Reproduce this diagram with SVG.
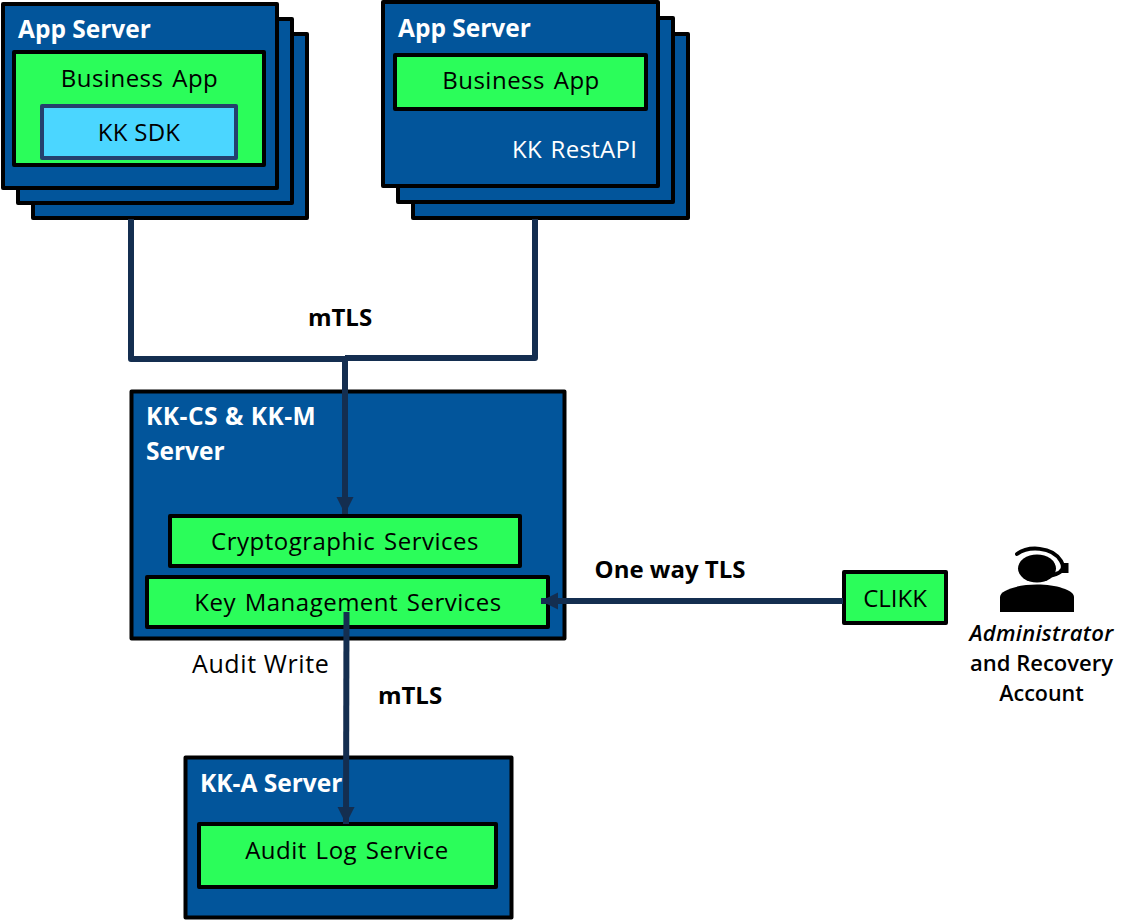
<svg xmlns="http://www.w3.org/2000/svg" width="1145" height="920" viewBox="0 0 1145 920">
<style>
text{font-family:"Open Sans","Noto Sans","Liberation Sans",sans-serif;font-size:24px;fill:#000}
.srv{fill:#02559b;stroke:#000;stroke-width:4;stroke-linejoin:round}
.svc{fill:#2bfd5a;stroke:#000;stroke-width:4;stroke-linejoin:round}
.w{fill:#fff;font-weight:700;font-size:24.500px}
.n{letter-spacing:.5px;word-spacing:2px}
.c{text-anchor:middle}
.b{font-weight:700;text-anchor:middle}
.con{fill:none;stroke:#142e50;stroke-width:6;stroke-linejoin:round}
.lbl{font-weight:600;font-size:22px;text-anchor:middle}
</style>
<defs>
<marker id="arr" markerUnits="userSpaceOnUse" markerWidth="18" markerHeight="18" refX="17" refY="9" orient="auto"><path d="M0,0.500L17,9L0,17.500Z" fill="#142e50"/></marker>
</defs>
<g id="app-server-1">
<rect class="srv" x="33" y="34" width="274" height="184"/>
<rect class="srv" x="18" y="19" width="274" height="184"/>
<rect class="srv" x="3" y="4" width="274" height="184"/>
<text class="w" x="18" y="38">App Server</text>
</g>
<g id="business-app-1">
<rect class="svc" x="14" y="52" width="250" height="113"/>
<text class="c n" x="139.500" y="87">Business App</text>
</g>
<g id="kk-sdk">
<rect x="42" y="106" width="194" height="52" fill="#4bd6ff" stroke="#24406e" stroke-width="4" stroke-linejoin="round"/>
<text class="c" x="139" y="141" style="letter-spacing:.3px">KK SDK</text>
</g>
<g id="app-server-2">
<rect class="srv" x="413" y="34" width="275" height="184"/>
<rect class="srv" x="398" y="18" width="275" height="184"/>
<rect class="srv" x="383" y="2" width="275" height="184"/>
<text class="w" x="398" y="37">App Server</text>
<text class="n" x="512" y="158" style="fill:#fff;letter-spacing:.3px">KK RestAPI</text>
</g>
<g id="business-app-2">
<rect class="svc" x="395" y="55" width="251" height="54"/>
<text class="c n" x="521" y="89">Business App</text>
</g>
<g id="kk-cs-server">
<rect class="srv" x="131.500" y="391.500" width="433" height="247"/>
<text class="w" x="146" y="425" style="letter-spacing:.5px">KK-CS &amp; KK-M</text>
<text class="w" x="146" y="460">Server</text>
</g>
<g id="crypto-services">
<rect class="svc" x="170" y="516" width="350" height="50"/>
<text class="c n" x="345" y="550">Cryptographic Services</text>
</g>
<g id="key-mgmt-services">
<rect class="svc" x="147" y="577" width="401" height="50"/>
<text class="c n" x="348" y="611">Key Management Services</text>
</g>
<g id="kk-a-server">
<rect class="srv" x="185.500" y="757.500" width="326" height="160"/>
<text class="w" x="200" y="792">KK-A Server</text>
</g>
<g id="audit-log-service">
<rect class="svc" x="199" y="824" width="297" height="63"/>
<text class="c n" x="347" y="859">Audit Log Service</text>
</g>
<g id="clikk">
<rect class="svc" x="844" y="572" width="102" height="51"/>
<text class="c" x="895" y="607">CLIKK</text>
</g>
<g id="administrator">
<path d="M1017,554C1028,546 1052,546 1061,561C1065,568 1062,572 1056,574L1046,577" fill="none" stroke="#000" stroke-width="4" stroke-linecap="round"/>
<rect x="1062" y="563" width="6.500" height="10" fill="#000"/>
<ellipse cx="1037" cy="568.500" rx="19" ry="14" fill="#000"/>
<path d="M1000,612L1000,597C1000,590 1018,584.500 1037,584.500C1056,584.500 1074,590 1074,597L1074,612Z" fill="#000"/>
<text class="lbl" x="1041.500" y="641" style="font-style:italic;letter-spacing:.3px">Administrator</text>
<text class="lbl" x="1041.500" y="671">and Recovery</text>
<text class="lbl" x="1041.500" y="701" style="font-size:21.500px">Account</text>
</g>
<g id="connectors">
<path class="con" d="M131,219V359H345"/>
<path class="con" d="M535,219V358H345"/>
<path class="con" d="M345,358V514" marker-end="url(#arr)"/>
<path class="con" d="M843,601H541" marker-end="url(#arr)"/>
<path class="con" d="M346.500,612L346,824" marker-end="url(#arr)"/>
</g>
<g id="labels">
<text class="b" x="340" y="326">mTLS</text>
<text class="b" x="670" y="578">One way TLS</text>
<text class="b" x="410" y="704">mTLS</text>
<text x="192" y="673" style="font-size:25px;letter-spacing:.6px">Audit Write</text>
</g>
</svg>
